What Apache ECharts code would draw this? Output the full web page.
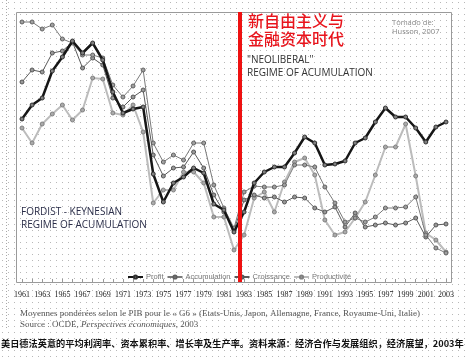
<!DOCTYPE html>
<html><head><meta charset="utf-8">
<script src="https://cdn.jsdelivr.net/npm/echarts@6/dist/echarts.min.js"></script>
<style>
html,body{margin:0;padding:0;background-color:#fff;}
#c{width:465px;height:357px;}
</style></head>
<body><div id="c"></div>
<script>
// ---- data (arbitrary index units) ----
const years = [1961,1962,1963,1964,1965,1966,1967,1968,1969,1970,1971,1972,1973,1974,1975,1976,1977,1978,1979,1980,1981,1982,1983,1984,1985,1986,1987,1988,1989,1990,1991,1992,1993,1994,1995,1996,1997,1998,1999,2000,2001,2002,2003];
const labelYears = [1961,1963,1965,1967,1969,1971,1973,1975,1977,1979,1981,1983,1985,1987,1989,1991,1993,1995,1997,1999,2001,2003];
const profit = [163,177,184,211,225,241,229,239,222,190,169,173,175,108,80,99,105,114,109,78,72,50,70,99,110,115,115,129,145,139,117,118,121,139,144,160,174,165,165,154,140,155,160];
const accumulation = [260,260,253,257,243,239,227,227,224,197,185,196,212,139,120,127,122,139,139,97,74,54,90,96,95,95,97,117,117,115,95,79,60,64,60,65,74,74,75,85,47,34,29];
const croissance = [200,212,210,229,231,240,214,224,217,184,175,185,192,127,106,114,115,130,114,87,70,52,82,87,84,85,80,85,84,74,70,75,55,69,55,57,59,57,59,64,45,57,58];
const productivite = [154,139,158,168,177,162,172,204,203,169,167,177,150,79,92,92,110,110,99,65,65,32,47,84,90,70,100,120,124,107,62,47,50,64,80,107,135,135,158,106,49,42,30];
const breakYear = 1982.6;

// dotted background
(function(){
  const cv = document.createElement('canvas'); cv.width = 6; cv.height = 6;
  const cx = cv.getContext('2d'); cx.fillStyle = '#b8b8b8'; cx.fillRect(2,2,1,1);
  document.body.style.backgroundImage = 'url(' + cv.toDataURL() + ')';
})();

const pairs = arr => years.map((y,i)=>[y,arr[i]]);
const chart = echarts.init(document.getElementById('c'), null, {renderer:'canvas'});
const sym = (fill,border)=>({color:fill,borderColor:border,borderWidth:1});
chart.setOption({
  animation:false,
  backgroundColor:'transparent',
  grid:{left:22,right:19,top:12,bottom:75},
  xAxis:{type:'value',min:1961,max:2003,interval:1,
    axisLine:{show:false},
    axisTick:{show:true,inside:true,length:3,lineStyle:{color:'#999'}},
    splitLine:{show:false},
    axisLabel:{margin:9,fontSize:8,fontFamily:'Liberation Serif',color:'#222',
      formatter:v=>labelYears.indexOf(v)>=0?String(v):''}},
  yAxis:{type:'value',min:0,max:270,show:false},
  legend:{left:122,top:268,itemWidth:15,itemHeight:4,itemGap:3,
    textStyle:{fontSize:7.5,color:'#777',fontFamily:'Liberation Sans',padding:[0,0,0,-2]},
    data:['Profit','Accumulation','Croissance','Productivité']},
  series:[
    {name:'Productivité',type:'line',data:pairs(productivite),symbol:'circle',symbolSize:4,
      lineStyle:{color:'#bcbcbc',width:2},itemStyle:sym('#aaa','#808080'),z:2},
    {name:'Croissance',type:'line',data:pairs(croissance),symbol:'circle',symbolSize:4,
      lineStyle:{color:'#5a5a5a',width:1},itemStyle:sym('#999','#555'),z:3},
    {name:'Accumulation',type:'line',data:pairs(accumulation),symbol:'circle',symbolSize:4,
      lineStyle:{color:'#7a7a7a',width:1},itemStyle:sym('#a0a0a0','#606060'),z:3},
    {name:'Profit',type:'line',data:pairs(profit),symbol:'circle',symbolSize:4,
      lineStyle:{color:'#161616',width:2.5},itemStyle:sym('#808080','#303030'),z:4,
      markLine:{silent:true,symbol:['none','none'],label:{show:false},
        lineStyle:{color:'#ee1111',width:4,type:'solid'},data:[{xAxis:breakYear}]}}
  ],
  graphic:[
    {type:'line',shape:{x1:6.5,y1:0,x2:6.5,y2:330},style:{stroke:'#aaa',lineWidth:1,lineDash:[1,2]},z:0},
    {type:'rect',shape:{x:16.5,y:12.5,width:435,height:270},style:{fill:'rgba(0,0,0,0)',stroke:'#9a9a9a',lineWidth:1},z:0,silent:true},
    {type:'text',style:{x:248,y:21,text:'新自由主义与',fill:'#e8141c',fontSize:16,fontFamily:'Noto Sans CJK SC',fontWeight:500,verticalAlign:'middle'}},
    {type:'text',style:{x:248,y:39,text:'金融资本时代',fill:'#e8141c',fontSize:16,fontFamily:'Noto Sans CJK SC',fontWeight:500,verticalAlign:'middle'}},
    {type:'text',style:{x:392,y:23,text:'Tomado de:',fill:'#888',fontSize:7.5,fontFamily:'Open Sans',verticalAlign:'middle'}},
    {type:'text',style:{x:392,y:32,text:'Husson, 2007',fill:'#888',fontSize:7.5,fontFamily:'Open Sans',verticalAlign:'middle'}},
    {type:'text',style:{x:247,y:60,text:'"NEOLIBERAL"',fill:'#333',fontSize:10,fontFamily:'Open Sans',verticalAlign:'middle'}},
    {type:'text',style:{x:247,y:73,text:'REGIME OF ACUMULATION',fill:'#333',fontSize:10,fontFamily:'Open Sans',verticalAlign:'middle'}},
    {type:'text',style:{x:21,y:212,text:'FORDIST - KEYNESIAN',fill:'#2a2d48',fontSize:10,fontFamily:'Open Sans',verticalAlign:'middle'}},
    {type:'text',style:{x:21,y:225,text:'REGIME OF ACUMULATION',fill:'#2a2d48',fontSize:10,fontFamily:'Open Sans',verticalAlign:'middle'}},
    {type:'text',style:{x:20,y:314,text:'Moyennes pondérées selon le PIB pour le « G6 » (Etats-Unis, Japon, Allemagne, France, Royaume-Uni, Italie)',fill:'#555',fontSize:9,fontFamily:'Liberation Serif',verticalAlign:'middle'}},
    {type:'text',style:{x:20,y:325,text:'{n|Source : OCDE, }{i|Perspectives économiques}{n|, 2003}',verticalAlign:'middle',
      rich:{n:{fill:'#555',fontSize:9,fontFamily:'Liberation Serif'},i:{fill:'#555',fontSize:9,fontFamily:'Liberation Serif',fontStyle:'italic'}}}},
    {type:'text',style:{x:1,y:344,text:'美日德法英意的平均利润率、资本累积率、增长率及生产率。资料来源：经济合作与发展组织，经济展望，2003年',fill:'#111',fontSize:9.2,fontFamily:'Noto Sans CJK SC',fontWeight:'bold',verticalAlign:'middle'}}
  ]
});
</script></body></html>
